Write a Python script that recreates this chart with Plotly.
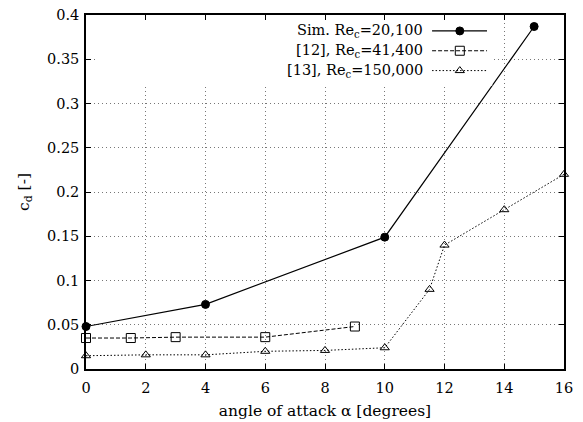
import plotly.graph_objects as go

sim_x = [0, 4, 10, 15]
sim_y = [0.048, 0.073, 0.149, 0.387]
ref12_x = [0, 1.5, 3, 6, 9]
ref12_y = [0.035, 0.035, 0.036, 0.036, 0.048]
ref13_x = [0, 2, 4, 6, 8, 10, 11.5, 12, 14, 16]
ref13_y = [0.015, 0.016, 0.016, 0.020, 0.021, 0.024, 0.09, 0.14, 0.18, 0.22]
names = ["Sim. Re<sub>c</sub>=20,100", "[12], Re<sub>c</sub>=41,400", "[13], Re<sub>c</sub>=150,000"]
x_ticks = list(range(0, 17, 2))
y_ticks = [0, 0.05, 0.1, 0.15, 0.2, 0.25, 0.3, 0.35, 0.4]
y_labels = ["0", "0.05", "0.1", "0.15", "0.2", "0.25", "0.3", "0.35", "0.4"]

FONT = "DejaVu Serif"
styles = [
    dict(dash="solid", symbol="circle", size=8, lw=1.2),
    dict(dash="4px,2px", symbol="square-open", size=9, lw=1.0),
    dict(dash="1.5px,2px", symbol="triangle-up-open", size=8, lw=1.0),
]
series = [(sim_x, sim_y), (ref12_x, ref12_y), (ref13_x, ref13_y)]

fig = go.Figure()
for (xs, ys), st in zip(series, styles):
    fig.add_trace(go.Scatter(
        x=xs, y=ys, mode="lines+markers",
        line=dict(color="black", width=st["lw"], dash=st["dash"]),
        marker=dict(symbol=st["symbol"], size=st["size"], color="black",
                    line=dict(color="black", width=1)),
        showlegend=False, cliponaxis=False))

# white legend background (covers grid)
fig.add_trace(go.Scatter(
    x=[0.02, 0.85, 0.85, 0.02, 0.02], y=[0.80, 0.80, 0.985, 0.985, 0.80],
    xaxis="x2", yaxis="y2", mode="lines", fill="toself", fillcolor="white",
    line=dict(width=0, color="white"), showlegend=False, hoverinfo="skip"))

# custom legend (text left of sample, like gnuplot)
leg_y = [0.955, 0.899, 0.843]
for yy, st, nm in zip(leg_y, styles, names):
    fig.add_trace(go.Scatter(
        x=[0.724, 0.839], y=[yy, yy], mode="lines", xaxis="x2", yaxis="y2",
        line=dict(color="black", width=st["lw"], dash=st["dash"]), showlegend=False))
    fig.add_trace(go.Scatter(
        x=[0.782], y=[yy], mode="markers", xaxis="x2", yaxis="y2",
        marker=dict(symbol=st["symbol"], size=st["size"], color="black",
                    line=dict(color="black", width=1)), showlegend=False))
    fig.add_annotation(x=0.71, y=yy, xref="paper", yref="paper", text=nm,
                       showarrow=False, xanchor="right", yanchor="middle",
                       font=dict(family=FONT, size=14.5, color="black"))

axis_common = dict(showline=True, linecolor="black", linewidth=1.5, mirror="ticks",
                   ticks="inside", ticklen=5, tickcolor="black", showgrid=True,
                   gridcolor="#777", griddash="1px,3px", gridwidth=1, zeroline=False,
                   automargin=False,
                   tickfont=dict(family=FONT, size=14.5, color="black"))

fig.update_layout(
    width=583, height=422,
    margin=dict(l=86, r=19, t=15, b=53),
    plot_bgcolor="white", paper_bgcolor="white",
    font=dict(family=FONT, size=14.5, color="black"),
    xaxis=dict(range=[0, 16], tickvals=x_ticks, ticklabelstandoff=5, **axis_common,
               title=dict(text="angle of attack α [degrees]", standoff=10,
                          font=dict(family=FONT, size=15.5))),
    yaxis=dict(range=[0, 0.4], tickvals=y_ticks, ticktext=y_labels, ticklabelstandoff=2,
               **axis_common,
               title=dict(text="c<sub>d</sub> [-]", standoff=14,
                          font=dict(family=FONT, size=15.5))),
    xaxis2=dict(range=[0, 1], overlaying="x", visible=False, fixedrange=True),
    yaxis2=dict(range=[0, 1], overlaying="y", visible=False, fixedrange=True),
)

fig.write_html("out.html")
